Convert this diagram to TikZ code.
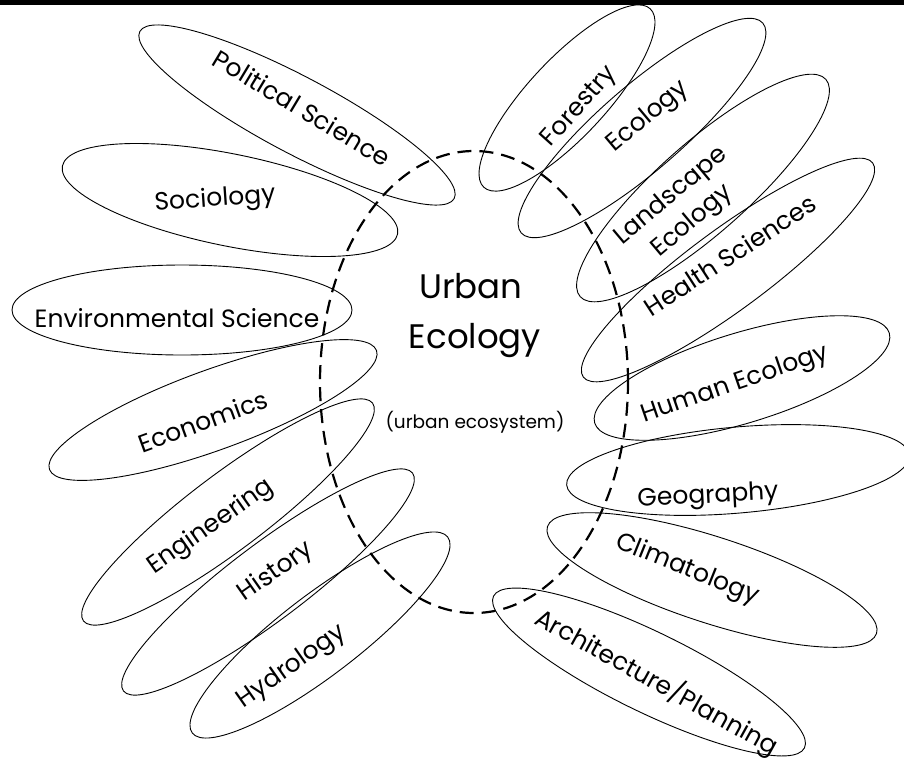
\documentclass[tikz,border=0pt]{standalone}
\usepackage{fontspec}
\setmainfont{Poppins}
\usetikzlibrary{shapes.geometric}
\begin{document}
\begin{tikzpicture}[x=1pt,y=-1pt,
  ell/.style={draw, ellipse, inner sep=0pt, line width=0.9pt},
  lab/.style={font=\fontsize{25}{33}\selectfont, inner sep=0pt, align=center},
  core/.style={draw, ellipse, inner sep=0pt, line width=2.2pt, dash pattern=on 14pt off 8pt}]
\useasboundingbox (0,0) rectangle (904,764);
\fill[black] (0,0) rectangle (904,5);
% central dashed ellipse
\node[core, minimum width=308pt, minimum height=462pt] (urban) at (474,382) {};
% discipline ellipses
\node[ell, minimum width=356pt, minimum height=76pt, rotate=-28]  (pol)  at (297,115) {};
\node[ell, minimum width=342pt, minimum height=92pt, rotate=-11.5] (soc) at (230,200) {};
\node[ell, minimum width=340pt, minimum height=90pt, rotate=0]    (env)  at (182,310) {};
\node[ell, minimum width=348pt, minimum height=80pt, rotate=20]   (eco)  at (213,410) {};
\node[ell, minimum width=362pt, minimum height=76pt, rotate=37]   (eng)  at (228,512) {};
\node[ell, minimum width=362pt, minimum height=76pt, rotate=37]   (his)  at (268,582) {};
\node[ell, minimum width=322pt, minimum height=80pt, rotate=37.5] (hyd)  at (320,635) {};
\node[ell, minimum width=244pt, minimum height=78pt, rotate=47]   (for)  at (567,98) {};
\node[ell, minimum width=320pt, minimum height=84pt, rotate=41]   (ecl)  at (642,128) {};
\node[ell, minimum width=328pt, minimum height=90pt, rotate=41.5] (lan)  at (703,188) {};
\node[ell, minimum width=360pt, minimum height=80pt, rotate=36.5] (hea)  at (728,270) {};
\node[ell, minimum width=308pt, minimum height=90pt, rotate=17]   (hum)  at (742,378) {};
\node[ell, minimum width=344pt, minimum height=86pt, rotate=5]    (geo)  at (738,470) {};
\node[ell, minimum width=346pt, minimum height=86pt, rotate=-18]  (cli)  at (712,580) {};
\node[ell, minimum width=346pt, minimum height=80pt, rotate=-26]  (arc)  at (649,672) {};
% labels
\node[lab, rotate=-31] (tpol) at (302,108) {Political Science};
\node[lab, rotate=4]   (tsoc) at (215,200) {Sociology};
\node[lab]             (tenv) at (177,318) {Environmental Science};
\node[lab, rotate=20]  (teco) at (203,421) {Economics};
\node[lab, rotate=35]  (teng) at (211,527) {Engineering};
\node[lab, rotate=35]  (this) at (276,572) {History};
\node[lab, rotate=35]  (thyd) at (292,667) {Hydrology};
\node[lab, rotate=48]  (tfor) at (580,107) {Forestry};
\node[lab, rotate=40]  (tecl) at (648,117) {Ecology};
\node[lab, rotate=40]  (tlan) at (682,209) {Landscape\\Ecology};
\node[lab, rotate=33]  (thea) at (730,255) {Health Sciences};
\node[lab, rotate=19]  (thum) at (735,385) {Human Ecology};
\node[lab, rotate=3]   (tgeo) at (708,497) {Geography};
\node[lab, rotate=-22] (tcli) at (687,570) {Climatology};
\node[lab, rotate=-29] (tarc) at (657,682) {Architecture/Planning};
% centre
\node[font=\fontsize{34}{40}\selectfont, inner sep=0pt, anchor=base] (t1) at (471,298) {Urban};
\node[font=\fontsize{34}{40}\selectfont, inner sep=0pt, anchor=base] (t2) at (475,348) {Ecology};
\node[font=\fontsize{18.5}{22}\selectfont, inner sep=0pt, anchor=base] (t3) at (475,428) {(urban ecosystem)};
\end{tikzpicture}
\end{document}
